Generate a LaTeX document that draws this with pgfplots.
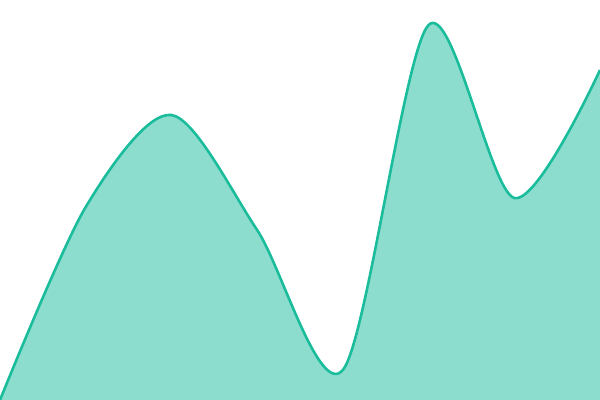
\documentclass[border=0pt]{standalone}
\usepackage{pgfplots}
\pgfplotsset{compat=1.18}
\definecolor{turq}{HTML}{1ABC9C}
\pgfplotstableread{
x y
0 0
1 193
2 285
3 170
4 30
5 375
6 202
7 330
}\series
\begin{document}
\begin{tikzpicture}
\begin{axis}[
  width=600bp, height=400bp, scale only axis,
  xmin=0, xmax=7, ymin=0, ymax=400,
  axis lines=none, ticks=none,
  clip=true,
]
\addplot[smooth, tension=0.5, draw=none, fill=turq, fill opacity=0.5] table {\series} \closedcycle;
\addplot[smooth, tension=0.5, draw=turq, line width=2.6bp] table {\series};
\end{axis}
\end{tikzpicture}
\end{document}
